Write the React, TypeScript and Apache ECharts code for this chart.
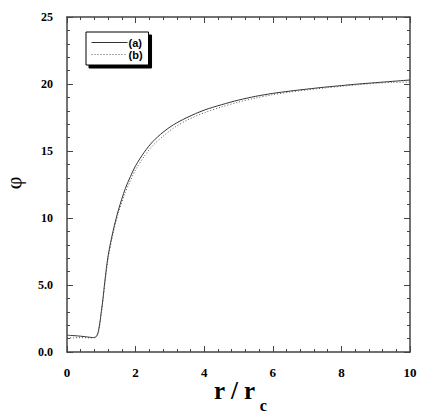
import React, { useEffect, useRef } from "react";
import * as echarts from "echarts";

const rValues = [0, 0.2, 0.4, 0.6, 0.75, 0.85, 0.92, 1.0, 1.05, 1.1, 1.2, 1.35, 1.5, 1.7, 1.85, 2.0, 2.25, 2.5, 2.8, 3.1, 3.5, 4.0, 4.5, 5.0, 5.5, 6.0, 6.5, 7.0, 7.5, 8.0, 8.5, 9.0, 9.5, 10];
const seriesA = [1.25, 1.22, 1.18, 1.12, 1.08, 1.15, 1.6, 3.0, 4.0, 5.2, 7.2, 9.1, 10.6, 12.2, 13.1, 13.9, 14.9, 15.7, 16.4, 16.95, 17.5, 18.05, 18.45, 18.8, 19.08, 19.3, 19.47, 19.62, 19.76, 19.88, 20.0, 20.1, 20.2, 20.3];
const seriesB = [1.05, 1.06, 1.07, 1.06, 1.05, 1.12, 1.55, 2.9, 3.9, 5.0, 7.0, 8.9, 10.4, 11.9, 12.8, 13.6, 14.6, 15.4, 16.1, 16.7, 17.3, 17.85, 18.28, 18.65, 18.95, 19.2, 19.4, 19.56, 19.7, 19.83, 19.95, 20.05, 20.12, 20.15];
const seriesNames = ["(a)", "(b)"];
const yTickLabels: Record<number, string> = { 0: "0.0", 5: "5.0", 10: "10", 15: "15", 20: "20", 25: "25" };
const yAxisTitle = "φ";
const xAxisTitleMain = "r / r";
const xAxisTitleSub = "c";

const FONT = "'Liberation Serif', 'Times New Roman', serif";
const SANS = "'Liberation Sans', Arial, sans-serif";
const AXIS_COLOR = "#444";

export default function App() {
  const ref = useRef<HTMLDivElement>(null);
  useEffect(() => {
    if (!ref.current) return;
    const chart = echarts.init(ref.current, undefined, { renderer: "svg" });
    const tickCommon = {
      axisLine: { show: true, onZero: false, lineStyle: { color: AXIS_COLOR, width: 1.5 } },
      axisTick: { show: true, inside: true, length: 6, lineStyle: { color: AXIS_COLOR, width: 1 } },
      minorTick: { show: true, length: 3, lineStyle: { color: AXIS_COLOR, width: 1 } },
      splitLine: { show: false },
    };
    chart.setOption({
      animation: false,
      backgroundColor: "#fff",
      grid: { left: 67, top: 17, right: 33, bottom: 63, containLabel: false, outerBoundsMode: "none" },
      legend: {
        data: seriesNames,
        orient: "vertical",
        left: 86,
        top: 32,
        itemWidth: 36,
        itemHeight: 8,
        itemGap: 1,
        padding: [5, 6, 5, 5],
        backgroundColor: "#fff",
        borderColor: "#000",
        borderWidth: 1,
        shadowColor: "#000",
        shadowBlur: 0,
        shadowOffsetX: 3,
        shadowOffsetY: 3,
        itemStyle: { opacity: 0 },
        lineStyle: { width: 1 },
        textStyle: { fontFamily: SANS, fontWeight: "bold", fontSize: 11, lineHeight: 10, color: "#000", padding: [0, 0, 0, -4] },
      },
      xAxis: [
        {
          type: "value",
          min: 0,
          max: 10,
          interval: 2,
          ...tickCommon,
          axisLabel: { fontFamily: FONT, fontWeight: "bold", fontSize: 13, color: "#000", margin: 14 },
        },
        {
          type: "value",
          position: "top",
          min: 0,
          max: 10,
          interval: 2,
          ...tickCommon,
          axisLabel: { show: false },
        },
      ],
      yAxis: [
        {
          type: "value",
          min: 0,
          max: 25,
          interval: 5,
          ...tickCommon,
          minorTick: { show: true, splitNumber: 5, length: 3, lineStyle: { color: AXIS_COLOR, width: 1 } },
          axisLabel: {
            fontFamily: FONT,
            fontWeight: "bold",
            fontSize: 12,
            color: "#000",
            margin: 14,
            formatter: (v: number) => yTickLabels[v] ?? String(v),
          },
        },
        {
          type: "value",
          position: "right",
          min: 0,
          max: 25,
          interval: 5,
          ...tickCommon,
          minorTick: { show: true, splitNumber: 5, length: 3, lineStyle: { color: AXIS_COLOR, width: 1 } },
          axisLabel: { show: false },
        },
      ],
      graphic: [
        {
          type: "text",
          x: 13,
          y: 183,
          rotation: Math.PI / 2,
          style: {
            text: yAxisTitle,
            fontFamily: FONT,
            fontSize: 22,
            fill: "#000",
            align: "center",
            verticalAlign: "middle",
          },
        },
        {
          type: "text",
          x: 214,
          y: 378,
          style: {
            text: `{a|${xAxisTitleMain}}{b|${xAxisTitleSub}}`,
            rich: {
              a: { fontFamily: FONT, fontWeight: "bold", fontSize: 25, lineHeight: 24, verticalAlign: "top", fill: "#000" },
              b: { fontFamily: FONT, fontWeight: "bold", fontSize: 16, lineHeight: 35, verticalAlign: "bottom", fill: "#000", padding: [0, 0, 0, 4] },
            },
          },
        },
      ],
      series: [
        {
          name: seriesNames[0],
          type: "line",
          smooth: 0.3,
          symbol: "none",
          lineStyle: { color: "#333", width: 1, type: "solid" },
          itemStyle: { color: "#333" },
          data: rValues.map((r, i) => [r, seriesA[i]]),
        },
        {
          name: seriesNames[1],
          type: "line",
          smooth: 0.3,
          symbol: "none",
          lineStyle: { color: "#555", width: 1, type: [1, 2] },
          itemStyle: { color: "#555" },
          data: rValues.map((r, i) => [r, seriesB[i]]),
        },
      ],
    });
    return () => chart.dispose();
  }, []);
  return <div ref={ref} style={{ width: 443, height: 415, position: "absolute", left: 0, top: 0 }} />;
}
